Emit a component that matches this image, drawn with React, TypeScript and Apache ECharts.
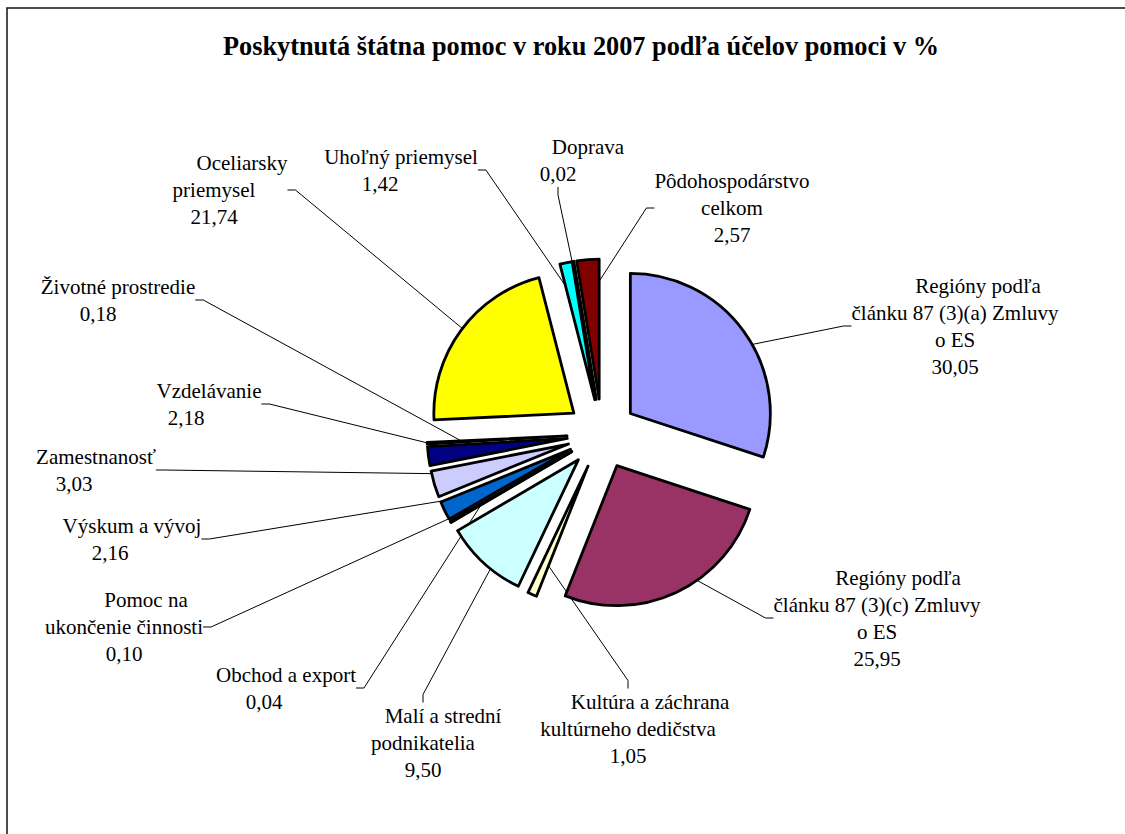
import React, { useEffect, useRef } from "react";
import * as echarts from "echarts";

const chartTitle = "Poskytnutá štátna pomoc v roku 2007 podľa účelov pomoci v %";

const categories = [
  "Regióny podľa\nčlánku 87 (3)(a) Zmluvy\no ES",
  "Regióny podľa\nčlánku 87 (3)(c) Zmluvy\no ES",
  "Kultúra a záchrana\nkultúrneho dedičstva",
  "Malí a strední\npodnikatelia",
  "Obchod a export",
  "Pomoc na\nukončenie činnosti",
  "Výskum a vývoj",
  "Zamestnanosť",
  "Vzdelávanie",
  "Životné prostredie",
  "Oceliarsky\npriemysel",
  "Uhoľný priemysel",
  "Doprava",
  "Pôdohospodárstvo\ncelkom",
];

const values = [30.05, 25.95, 1.05, 9.5, 0.04, 0.1, 2.16, 3.03, 2.18, 0.18, 21.74, 1.42, 0.02, 2.57];

const colors = [
  "#9999FF", "#993366", "#FFFFCC", "#CCFFFF", "#660066", "#FF8080", "#0066CC",
  "#CCCCFF", "#000080", "#FF00FF", "#FFFF00", "#00FFFF", "#800080", "#800000",
];

// label block centres (layout only)
const labelCenters: [number, number][] = [
  [955, 326], [877, 618], [628, 729], [423, 743], [264, 688], [124, 627], [110, 539],
  [74, 470], [186, 404], [98, 300], [214, 190], [380, 170], [558, 160], [732, 208],
];
const firstLineShift = [23, 21, 22, 20, 22, 22, 22, 22, 23, 20, 28, 21, 30, 0];

const FONT = "'Liberation Serif', 'Times New Roman', serif";
const CENTER = [602, 434];
const RADIUS = 140;

export default function App() {
  const ref = useRef<HTMLDivElement>(null);
  useEffect(() => {
    const chart = echarts.init(ref.current!, null, { renderer: "svg" });
    const rich: Record<string, any> = {};
    firstLineShift.forEach((s, i) => {
      rich["f" + i] = {
        padding: [0, 0, 0, s * 2],
        fontFamily: FONT,
        fontSize: 21,
        lineHeight: 27,
        color: "#000",
      };
    });
    const fmtVal = (v: number) => v.toFixed(2).replace(".", ",");
    chart.setOption({
      animation: false,
      backgroundColor: "#fff",
      title: {
        text: chartTitle,
        left: 581,
        top: 33,
        padding: 0,
        textAlign: "center",
        textStyle: { fontFamily: FONT, fontSize: 26.3, fontWeight: "bold", color: "#000" },
      },
      graphic: [
        {
          type: "rect",
          silent: true,
          z: -1,
          shape: { x: 7, y: 8, width: 1140, height: 850 },
          style: { fill: "none", stroke: "#111", lineWidth: 1.5 },
        },
      ],
      series: [
        {
          // label layer (beneath the exploded slices)
          type: "pie",
          z: 1,
          silent: true,
          center: CENTER,
          radius: [0, RADIUS],
          startAngle: 90,
          clockwise: true,
          avoidLabelOverlap: false,
          emphasis: { disabled: true },
          itemStyle: { color: "rgba(0,0,0,0)", borderWidth: 0 },
          label: {
            show: true,
            position: "outside",
            color: "#000",
            fontFamily: FONT,
            fontSize: 21,
            lineHeight: 27,
            rich,
            formatter: (p: any) => {
              const lines = (p.name + "\n" + fmtVal(Number(p.value))).split("\n");
              lines[0] = `{f${p.dataIndex}|${lines[0]}}`;
              return lines.join("\n");
            },
          },
          labelLine: {
            show: true,
            length: 10,
            length2: 8,
            smooth: false,
            lineStyle: { color: "#000", width: 1 },
          },
          labelLayout: (params: any) => {
            const c = labelCenters[params.dataIndex];
            return { x: c[0], y: c[1], align: "center", verticalAlign: "middle", hideOverlap: false };
          },
          data: categories.map((name, i) => ({ name, value: values[i] })),
        },
        {
          // exploded slices
          type: "pie",
          z: 2,
          center: CENTER,
          radius: [0, RADIUS],
          startAngle: 90,
          clockwise: true,
          selectedMode: "multiple",
          selectedOffset: 35,
          emphasis: { disabled: true },
          label: { show: false },
          labelLine: { show: false },
          itemStyle: { borderColor: "#000", borderWidth: 2.8 },
          select: { itemStyle: { borderColor: "#000", borderWidth: 2.8 } },
          data: categories.map((name, i) => ({
            name,
            value: values[i],
            selected: true,
            itemStyle: { color: colors[i] },
            select: { itemStyle: { color: colors[i] } },
          })),
        },
      ],
    });
    return () => chart.dispose();
  }, []);
  return (
    <div
      ref={ref}
      style={{ position: "absolute", left: 0, top: 0, width: 1125, height: 834, background: "#fff" }}
    />
  );
}
